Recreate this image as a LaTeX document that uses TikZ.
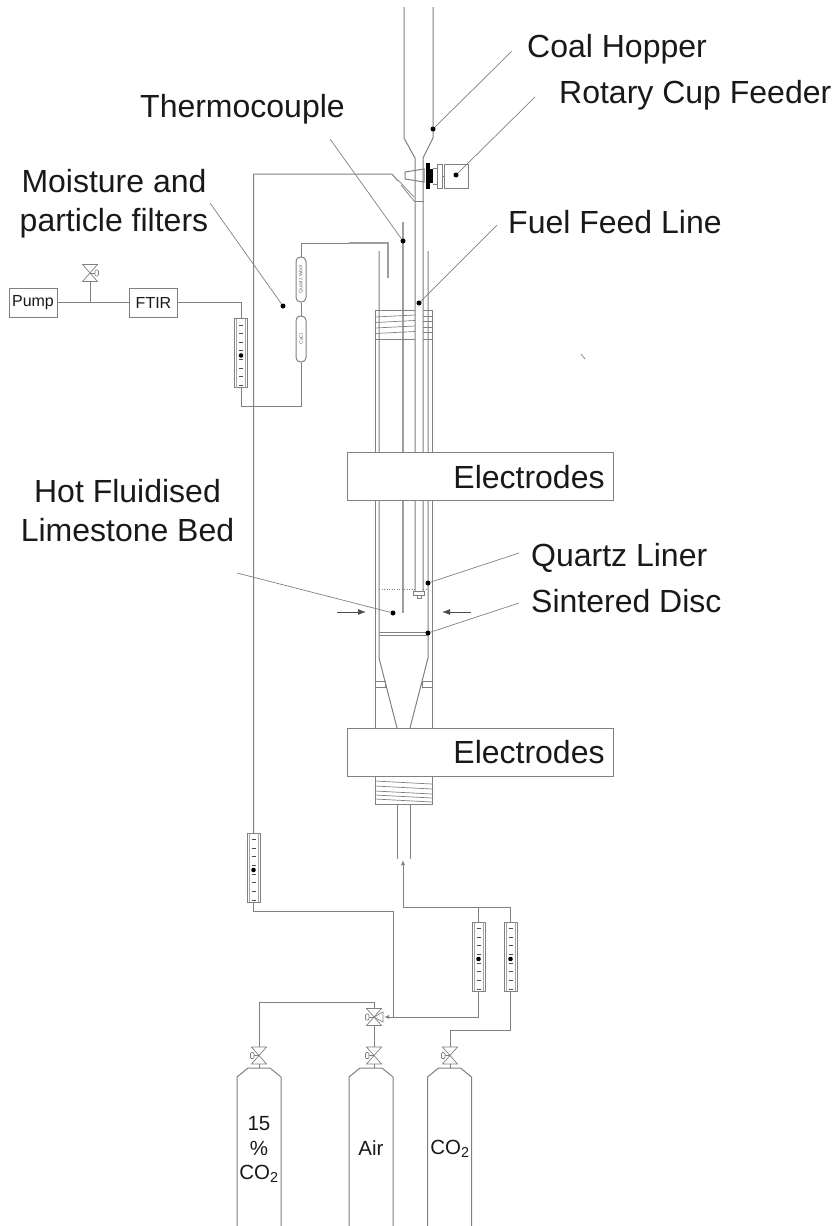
\documentclass[tikz,border=0pt]{standalone}
\usepackage{fontspec}
\usetikzlibrary{arrows.meta}
\setmainfont{Liberation Sans}
\tikzset{
  pipe/.style={draw=black!50, line width=1pt},
  thickpipe/.style={draw=black!38, line width=2.2pt},
  leader/.style={draw=black!50, line width=0.7pt},
  leaddot/.style={circle, fill=black, inner sep=0pt, minimum size=5pt},
  bedarrow/.style={draw=black!70, line width=0.8pt, -{Latex[length=8pt,width=6pt]}},
  bigtext/.style={font=\fontsize{32}{38.5}\selectfont, text=black!90, align=center, inner sep=0pt},
  gastext/.style={font=\fontsize{20.5}{24.5}\selectfont, text=black!90, align=center, inner sep=0pt},
  boxtext/.style={draw=black!50, line width=1pt, font=\fontsize{16}{18}\selectfont, text=black!90,
    minimum width=48pt, minimum height=29pt, inner sep=0pt},
  electrode/.style={draw=black!50, line width=1pt, fill=white, minimum width=266pt, minimum height=48pt},
  filter/.style={draw=black!50, line width=1pt, rounded corners=4.5pt, rotate=90, inner sep=0pt,
    minimum height=10pt, font=\fontsize{5}{5}\selectfont, text=black!60},
  pics/rotameter/.style={code={
    \draw[pipe] (-6.5,-34.5) rectangle (6.5,34.5);
    \draw[pipe, draw=black!35] (-4.5,-34.5) -- (-4.5,34.5) (4.5,-34.5) -- (4.5,34.5);
    \foreach \tick in {-28,-19.5,-11,-2.5,6.5,15,23.5,32.5}
      \draw[draw=black!70, line width=0.8pt] (-2,\tick) -- (2,\tick);
    \fill[black] (0,2.5) circle (2.3pt);
    \coordinate (-top) at (0,-34.5);
    \coordinate (-bot) at (0,34.5);
  }},
  pics/gasvalve/.style={code={
    \draw[pipe, line width=0.7pt] (-7.5,-8.5) -- (7.5,-8.5) -- (-7.5,8.5) -- (7.5,8.5) -- cycle;
    \draw[pipe, line width=0.7pt] (0,0) -- (-5,0);
    \draw[pipe, line width=0.7pt, rounded corners=1pt] (-8.5,-3) rectangle (-5,3);
    \coordinate (-top) at (0,-8.5);
    \coordinate (-bot) at (0,8.5);
  }},
  pics/cylinder/.style={code={
    \draw[pipe] (-22,158) -- (-22,9) -- (-11,0) -- (11,0) -- (22,9) -- (22,158);
  }}
}
\begin{document}
\begin{tikzpicture}[x=1pt, y=-1pt, >={Latex[length=5pt,width=4pt]}]
  \useasboundingbox (0,0) rectangle (835,1226);

  % hopper and feed tube
  \draw[pipe] (404,7) -- (404,138) -- (415,158) -- (415,592);
  \draw[pipe] (433,7) -- (433,138) -- (423,158) -- (423,592);
  \draw[pipe] (414,201) -- (423.5,201);
  \draw[pipe] (413.5,591) rectangle (424,595);
  \draw[pipe] (417,595) rectangle (421,598);

  % cup feeder
  \draw[pipe] (405,172) -- (424,169) -- (424,182) -- (405,179) -- cycle;
  \fill[black] (426,163) rectangle (430,189);
  \fill[black] (430,169) rectangle (432.5,183);
  \draw[pipe] (432.5,168) -- (437,168) -- (437,184) -- (432.5,184);
  \draw[pipe] (437,164) rectangle (442,188);
  \draw[pipe] (442,176) -- (444,176);
  \draw[pipe] (444,164) rectangle (468,188);

  % gas arm off the feed tube
  \draw[pipe, line width=0.7pt] (398,180) -- (414,197);
  \draw[pipe, line width=0.7pt] (401,185) -- (414,201);

  % reactor walls
  \draw[pipe] (375,339) -- (375,452) (375,500) -- (375,728);
  \draw[pipe] (432,339) -- (432,452) (432,500) -- (432,728);
  \draw[pipe] (379,251) -- (379,452) (379,500) -- (379,658) -- (397,728);
  \draw[pipe] (428,251) -- (428,452) (428,500) -- (428,658) -- (410,728);
  \draw[thickpipe] (403,222) -- (403,613);
  \draw[pipe, line width=0.5pt, dotted] (379,589) -- (415,589) (423,589) -- (428,589);
  \draw[pipe] (379,632) -- (428,632) (379,635.5) -- (428,635.5);
  \draw[pipe] (375,681) rectangle (385,687);
  \draw[pipe] (422,681) rectangle (432,687);

  % coils
  \draw[pipe, line width=0.7pt] (415,310) -- (375,310) -- (375,339) -- (415,339);
  \draw[pipe, line width=0.7pt] (423,310) -- (432,310) -- (432,339) -- (423,339);
  \foreach \turn in {316,321.5,327,332.5}{
    \draw[pipe, line width=0.7pt] (375,\turn+1) -- (415,\turn-1);
    \draw[pipe, line width=0.7pt] (423,\turn) -- (432,\turn);
  }
  \draw[pipe, line width=0.7pt] (375,804) rectangle (432,776);
  \foreach \turn in {781,786,791,795,799}
    \draw[pipe, line width=0.7pt] (375,\turn) -- (432,\turn+3);
  \draw[pipe] (397,804) -- (397,859) (410,804) -- (410,859);

  \node[electrode] (elecupper) at (480,476) {};
  \node[electrode] (eleclower) at (480,752) {};
  \node[bigtext] (elecuppertext) at (529,477) {Electrodes};
  \node[bigtext] (eleclowertext) at (529,752) {Electrodes};

  % bed arrows
  \coordinate (bedleftend) at (337,612);
  \coordinate (bedlefttip) at (366,612);
  \coordinate (bedrightend) at (471,612);
  \coordinate (bedrighttip) at (442,612);
  \draw[bedarrow] (bedleftend) -- (bedlefttip);
  \draw[bedarrow] (bedrightend) -- (bedrighttip);

  % gas train
  \pic (rota) at (478.5,956.5) {rotameter};
  \pic (rotb) at (510.5,956.5) {rotameter};
  \pic (rotc) at (253.5,867.5) {rotameter};
  \pic (rotd) at (241,353) {rotameter};

  \pic (valvemix) at (374,1017) {gasvalve};
  \pic (valvea) at (259,1055.5) {gasvalve};
  \pic (valveb) at (374,1055.5) {gasvalve};
  \pic (valvec) at (450,1055.5) {gasvalve};
  \pic[xscale=-1] (valvepump) at (90,273) {gasvalve};
  \draw[pipe, line width=0.7pt] (374,1017) -- (383,1012) -- (383,1022) -- cycle;

  \pic (cyla) at (259,1068) {cylinder};
  \pic (cylb) at (371,1068) {cylinder};
  \pic (cylc) at (449.5,1068) {cylinder};
  \node[gastext] (gasmix) at (259,1149.5) {15\\\%\\CO\textsubscript{2}};
  \node[gastext] (gasair) at (371,1148) {Air};
  \node[gastext] (gasco) at (450,1149) {CO\textsubscript{2}};

  \coordinate (bedjoin) at (403,907);
  \coordinate (bedtip) at (403,860);
  \coordinate (mixjoin) at (393,1017);
  \coordinate (mixtip) at (384,1017);
  \coordinate (ductup) at (253.5,174);
  \coordinate (ductbend) at (392,174);
  \coordinate (ductarm) at (398,181);
  \draw[pipe] (rotb-top) |- (bedjoin);
  \draw[pipe] (rota-top) -- (rota-top |- bedjoin);
  \draw[pipe, ->] (bedjoin) -- (bedtip);
  \draw[pipe, ->] (rota-bot) |- (mixtip);
  \draw[pipe] (rotc-bot) |- (393,911) -- (mixjoin);
  \draw[pipe] (rotb-bot) |- (450,1030) -- (valvec-top);
  \draw[pipe] (valvea-top) |- (374,1002) -- (valvemix-top);
  \draw[pipe] (valvemix-bot) -- (valveb-top);
  \foreach \valve in {valvea,valveb,valvec}
    \draw[pipe] (\valve-bot) -- (\valve-bot |- 0,1068);
  \draw[pipe] (rotc-top) -- (ductup) -- (ductbend) -- (ductarm);

  % sampling line
  \node[boxtext] (pump) at (33,302.5) {Pump};
  \node[boxtext] (ftir) at (153.5,302.5) {FTIR};
  \node[filter, minimum width=45pt] (filtera) at (301,279.5) {Quartz Wool};
  \node[filter, minimum width=46pt] (filterb) at (301,339) {CaCl};
  \coordinate (probebend) at (388,243);
  \coordinate (probestart) at (349,243);
  \coordinate (probeend) at (388,278);
  \coordinate (filtertop) at (301,243);
  \coordinate (filterbot) at (301,406.5);
  \draw[pipe] (pump) -- (ftir);
  \draw[pipe] (ftir) -| (rotd-top);
  \draw[pipe] (valvepump-bot) -- (valvepump-bot |- pump);
  \draw[pipe] (rotd-bot) |- (filterbot) -- (filterb.west);
  \draw[pipe] (filterb.east) -- (filtera.west);
  \draw[pipe] (filtera.east) -- (filtertop) -- (probestart);
  \draw[thickpipe] (probestart) -- (probebend) -- (probeend);

  % labels
  \node[bigtext, anchor=base west] (coal) at (527,57) {Coal Hopper};
  \node[bigtext, anchor=base west] (rotary) at (559,103) {Rotary Cup Feeder};
  \node[bigtext, anchor=base west] (thermo) at (140,117) {Thermocouple};
  \node[bigtext, anchor=base west] (fuel) at (508,233) {Fuel Feed Line};
  \node[bigtext] (moisture) at (114,203.5) {Moisture and\\particle filters};
  \node[bigtext] (hotbed) at (127.5,510.5) {Hot Fluidised\\Limestone Bed};
  \node[bigtext, anchor=base west] (quartz) at (531,566) {Quartz Liner};
  \node[bigtext, anchor=base west] (sinter) at (531,612) {Sintered Disc};

  \node[leaddot] (coaldot) at (433,129) {};
  \node[leaddot] (rotarydot) at (456,175) {};
  \node[leaddot] (thermodot) at (403,241) {};
  \node[leaddot] (fueldot) at (419,303) {};
  \node[leaddot] (moisturedot) at (283,306) {};
  \node[leaddot] (hotbeddot) at (393,613) {};
  \node[leaddot] (quartzdot) at (428,583) {};
  \node[leaddot] (sinterdot) at (428,633) {};
  \coordinate (coalend) at (512,51);
  \coordinate (rotaryend) at (535,97);
  \coordinate (thermoend) at (330,139);
  \coordinate (fuelend) at (497,225);
  \coordinate (moistureend) at (210,203);
  \coordinate (hotbedend) at (237,573);
  \coordinate (quartzend) at (519,553);
  \coordinate (sinterend) at (519,603);
  \draw[leader] (coalend) -- (coaldot);
  \draw[leader] (rotaryend) -- (rotarydot);
  \draw[leader] (thermoend) -- (thermodot);
  \draw[leader] (fuelend) -- (fueldot);
  \draw[leader] (moistureend) -- (moisturedot);
  \draw[leader] (hotbedend) -- (hotbeddot);
  \draw[leader] (quartzend) -- (quartzdot);
  \draw[leader] (sinterend) -- (sinterdot);

  \coordinate (strayone) at (581,354);
  \coordinate (straytwo) at (585,359);
  \draw[leader] (strayone) -- (straytwo);
\end{tikzpicture}
\end{document}
